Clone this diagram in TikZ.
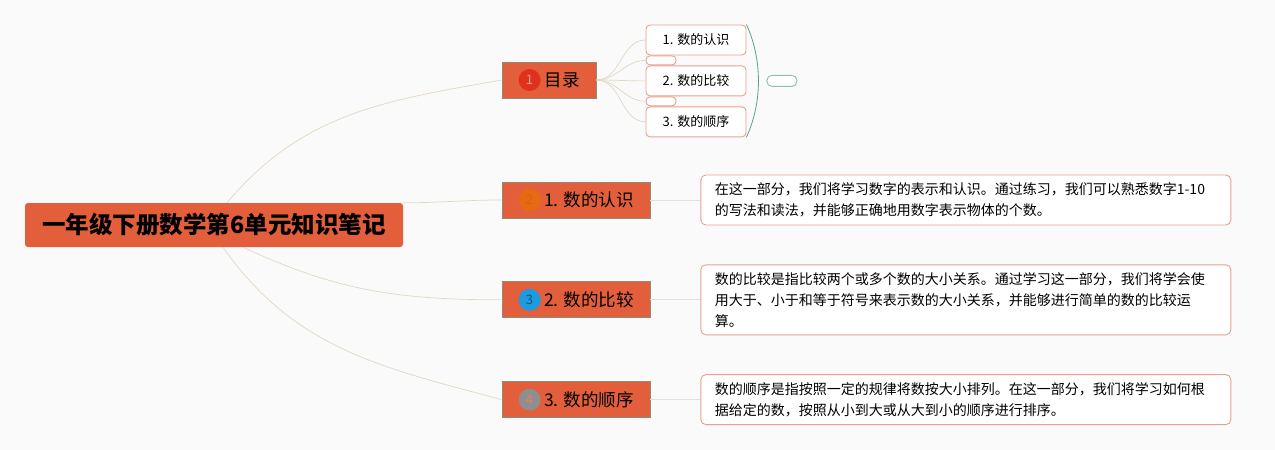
\documentclass[tikz,border=0pt]{standalone}
\usepackage{fontspec}
\setmainfont{Noto Sans CJK SC}
\usetikzlibrary{positioning}
\definecolor{paper}{HTML}{FAFAFA}
\definecolor{mapred}{HTML}{E35E3A}
\definecolor{branchline}{HTML}{8E8C78}
\definecolor{salmon}{HTML}{E9A08D}
\definecolor{linkbeige}{HTML}{E3D7C3}
\definecolor{notelink}{HTML}{E6E0D8}
\definecolor{bracegreen}{HTML}{5FA08C}
\definecolor{iconred}{HTML}{E0301E}
\definecolor{iconorange}{HTML}{E86A10}
\definecolor{iconblue}{HTML}{1C9BE0}
\definecolor{icongray}{HTML}{8E8E8E}

\begin{document}
\begin{tikzpicture}[x=1pt,y=1pt]
		\tikzset{rootbox/.style = {rectangle, rounded corners=3pt, fill=mapred, minimum width=378pt, minimum height=44pt, font=\fontsize{23.5}{28}\bfseries},
			branchbox/.style = {rectangle, draw=branchline, line width=0.8pt, fill=mapred, minimum height=36pt, minimum width=148pt, inner sep=0pt, font=\fontsize{17.5}{21}\selectfont},
			iconball/.style = {circle, minimum size=22pt, inner sep=0pt, font=\fontsize{13}{15}\selectfont},
			subbox/.style = {rectangle, rounded corners=4pt, draw=salmon, line width=0.9pt, fill=white, minimum width=100pt, minimum height=30pt, font=\fontsize{13}{15}\selectfont},
			gappill/.style = {rectangle, rounded corners=4pt, draw=salmon, line width=0.9pt, fill=white, minimum width=30pt, minimum height=9pt, inner sep=0pt},
			notebox/.style = {rectangle, rounded corners=5pt, draw=salmon, line width=0.9pt, fill=white, text width=502pt, inner xsep=14pt, align=left, font=\fontsize{14}{21}\selectfont},
			link/.style = {draw=linkbeige, line width=0.7pt}}
		\fill[paper] (0,0) rectangle (1275,-450);
		\useasboundingbox (0,0) rectangle (1275,-450);
		\node[rootbox] (root) at (214,-225) {一年级下册数学第6单元知识笔记};
		\node[branchbox, minimum width=94pt] (toc) at (549,-80) {\hspace*{26pt}目录};
		\node[branchbox] (b1) at (576,-200) {\hspace*{26pt}1. 数的认识};
		\node[branchbox, below=63pt of b1] (b2) {\hspace*{26pt}2. 数的比较};
		\node[branchbox, below=63pt of b2] (b3) {\hspace*{26pt}3. 数的顺序};
		\node[iconball, fill=iconred, text=salmon] (icon1) at ([xshift=28pt]toc.west) {1};
		\node[iconball, fill=iconorange, text=iconorange!92!black] (icon2) at ([xshift=28pt]b1.west) {2};
		\node[iconball, fill=iconblue, text=iconblue!55!black] (icon3) at ([xshift=28pt]b2.west) {3};
		\node[iconball, fill=icongray, text=mapred!80] (icon4) at ([xshift=28pt]b3.west) {4};
		\node[subbox] (sub1) at (696,-40) {1. 数的认识};
		\node[subbox, below=10pt of sub1] (sub2) {2. 数的比较};
		\node[subbox, below=10pt of sub2] (sub3) {3. 数的顺序};
		\node[gappill, anchor=north west] (gap1) at (sub1.south west) {};
		\node[gappill, anchor=north west] (gap2) at (sub2.south west) {};
		\node[gappill, draw=bracegreen!70, minimum height=11pt, rounded corners=5pt, right=20pt of sub2] (summary) {};
		\node[notebox, minimum height=50pt, right=50pt of b1] (note1) {在这一部分，我们将学习数字的表示和认识。通过练习，我们可以熟悉数字1-10\\的写法和读法，并能够正确地用数字表示物体的个数。};
		\node[notebox, minimum height=70pt, right=50pt of b2] (note2) {数的比较是指比较两个或多个数的大小关系。通过学习这一部分，我们将学会使\\用大于、小于和等于符号来表示数的大小关系，并能够进行简单的数的比较运\\算。};
		\node[notebox, minimum height=50pt, right=50pt of b3] (note3) {数的顺序是指按照一定的规律将数按大小排列。在这一部分，我们将学习如何根\\据给定的数，按照从小到大或从大到小的顺序进行排序。};
		\draw[link] ([xshift=13pt]root.north) to[out=50, in=190] (toc.west);
		\draw[link] (root.north east) to[out=0, in=180] (b1.west);
		\draw[link] ([xshift=29pt]root.south) to[out=-25, in=180] (b2.west);
		\draw[link] ([xshift=9pt]root.south) to[out=-55, in=165] (b3.west);
		\foreach \s in {sub1,gap1,sub2,gap2,sub3}
			\draw[link] (toc.east) to[out=0, in=180] (\s.west);
		\draw[draw=bracegreen, line width=0.8pt] (sub1.north east) .. controls +(16,-35) and +(16,35) .. (sub3.south east);
		\draw[draw=notelink, line width=0.7pt] (b1.east) -- (note1.west);
		\draw[draw=notelink, line width=0.7pt] (b2.east) -- (note2.west);
		\draw[draw=notelink, line width=0.7pt] (b3.east) -- (note3.west);
		\end{tikzpicture}
\end{document}
